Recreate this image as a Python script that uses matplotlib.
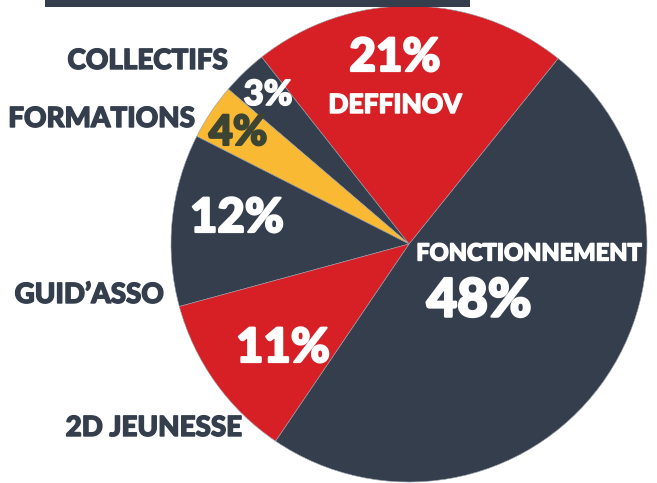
import matplotlib
matplotlib.use("Agg")
import matplotlib.pyplot as plt
from matplotlib.patches import Rectangle
import matplotlib.patheffects as pe

# Data (counter-clockwise order starting from the bottom-left boundary)
categories = ["FONCTIONNEMENT", "DEFFINOV", "COLLECTIFS", "FORMATIONS", "GUID\u2019ASSO", "2D JEUNESSE"]
shares = [48.7, 21.4, 3.1, 3.8, 11.7, 11.3]
pct_labels = ["48%", "21%", "3%", "4%", "12%", "11%"]

DARK = "#343e4d"
RED = "#d62026"
YELLOW = "#f9b933"
colors = [DARK, RED, DARK, YELLOW, DARK, RED]

W, H = 657, 483
fig = plt.figure(figsize=(W / 100, H / 100), dpi=100)
ax = fig.add_axes([0, 0, 1, 1])

cx, cy, r = 409, H - 244, 238
ax.pie(shares, colors=colors, startangle=235.9, counterclock=True,
       center=(cx, cy), radius=r, frame=True,
       wedgeprops=dict(edgecolor="#9aa0aa", linewidth=0.4))
ax.set_xlim(0, W)
ax.set_ylim(0, H)
ax.set_aspect("equal")
ax.axis("off")

# title bar remnant at top
ax.add_patch(Rectangle((45, H - 7), 425, 7, color=DARK, lw=0))

FONT = ["Lato", "DejaVu Sans"]

def txt(x, y, s, size, color, ha="center", stroke=1.2):
    ax.text(x, H - y, s, fontsize=size, color=color, ha=ha, va="center",
            fontweight="black", family=FONT,
            path_effects=[pe.withStroke(linewidth=stroke, foreground=color)])

# percentage labels inside slices
txt(479, 301, pct_labels[0], 38, "white", stroke=1.8)
txt(395, 58, pct_labels[1], 33, "white", stroke=1.6)
txt(268, 95, pct_labels[2], 25, "white")
txt(238, 133, pct_labels[3], 30, "#3c4434", stroke=1.5)
txt(237, 218, pct_labels[4], 34, "white", stroke=1.6)
txt(283, 348, pct_labels[5], 34, "white", stroke=1.6)

# category names
txt(529, 253, categories[0], 17, "white", stroke=1.0)
txt(395, 105, categories[1], 19, "white", stroke=1.0)
txt(228, 61, categories[2], 20, DARK, ha="right", stroke=1.0)
txt(195, 119, categories[3], 20, DARK, ha="right", stroke=1.0)
txt(164, 295, categories[4], 20, DARK, ha="right", stroke=1.0)
txt(242, 428, categories[5], 20, DARK, ha="right", stroke=1.0)

fig.savefig("out.png", dpi=100, facecolor="white")
